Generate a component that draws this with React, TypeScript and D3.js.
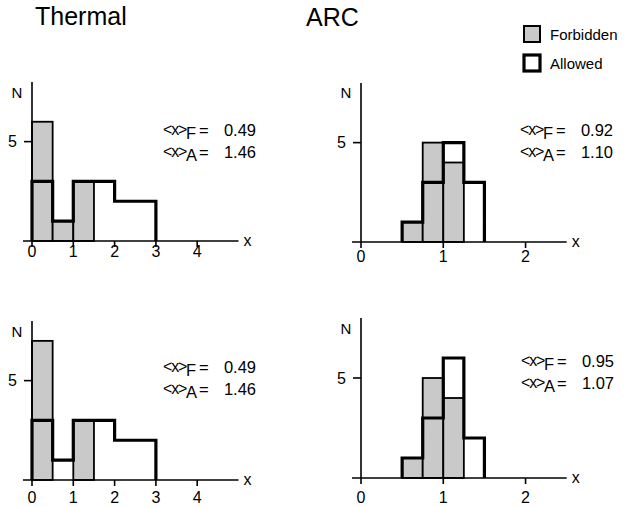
import React, { useRef, useEffect } from "react";
import * as d3 from "d3";

// bin edges
const thermalEdges = [0, 0.5, 1, 1.5, 2, 2.5, 3];
const arcEdges = [0.5, 0.75, 1, 1.25, 1.5];

// counts per bin
const thermalTopForbidden = [6, 1, 3, 0, 0, 0];
const thermalTopAllowed = [3, 1, 3, 3, 2, 2];
const thermalBottomForbidden = [7, 0, 3, 0, 0, 0];
const thermalBottomAllowed = [3, 1, 3, 3, 2, 2];
const arcTopForbidden = [1, 5, 4, 0];
const arcTopAllowed = [1, 3, 5, 3];
const arcBottomForbidden = [1, 5, 4, 0];
const arcBottomAllowed = [1, 3, 6, 2];

const thermalTicks = [0, 1, 2, 3, 4];
const arcTicks = [0, 1, 2];
const yTicks = [5];

const meansF = ["0.49", "0.92", "0.49", "0.95"];
const meansA = ["1.46", "1.10", "1.46", "1.07"];

const FONT = "'Liberation Sans', Arial, Helvetica, sans-serif";
const GRAY = "#c9c9c9";

export default function App() {
  const ref = useRef<SVGSVGElement>(null);

  useEffect(() => {
    const svg = d3.select(ref.current);
    svg.selectAll("*").remove();

    const panels = [
      { edges: thermalEdges, f: thermalTopForbidden, a: thermalTopAllowed, ticks: thermalTicks, xMax: 5,
        x0: 32, x1: 238.5, base: 241, top: 82, tickY: 257, sx: 163, sy: 136, nY: 98, i: 0 },
      { edges: arcEdges, f: arcTopForbidden, a: arcTopAllowed, ticks: arcTicks, xMax: 2.5,
        x0: 361, x1: 566.7, base: 242, top: 83, tickY: 262, sx: 520, sy: 136, nY: 98, i: 1 },
      { edges: thermalEdges, f: thermalBottomForbidden, a: thermalBottomAllowed, ticks: thermalTicks, xMax: 5,
        x0: 32, x1: 238.5, base: 480, top: 321, tickY: 503, sx: 163, sy: 373, nY: 337, i: 2 },
      { edges: arcEdges, f: arcBottomForbidden, a: arcBottomAllowed, ticks: arcTicks, xMax: 2.5,
        x0: 361, x1: 566.7, base: 478, top: 318, tickY: 503, sx: 521, sy: 367, nY: 334, i: 3 },
    ];

    const titles = [
      { t: "Thermal", x: 35, y: 25 },
      { t: "ARC", x: 306, y: 26 },
    ];
    svg.selectAll("text.title")
      .data(titles)
      .join("text")
      .attr("class", "title")
      .attr("x", (d) => d.x)
      .attr("y", (d) => d.y)
      .style("font-family", FONT)
      .style("font-size", "25px")
      .text((d) => d.t);

    panels.forEach((p) => {
      const x = d3.scaleLinear().domain([0, p.xMax]).range([p.x0, p.x1]);
      const y = d3.scaleLinear().domain([0, 8]).range([p.base, p.top]);
      const g = svg.append("g");

      const bins = p.f.map((v, k) => ({ x0: p.edges[k], x1: p.edges[k + 1], f: v, a: p.a[k] }));

      // forbidden bars
      g.selectAll("rect.forb")
        .data(bins.filter((b) => b.f > 0))
        .join("rect")
        .attr("class", "forb")
        .attr("x", (d) => x(d.x0))
        .attr("y", (d) => y(d.f))
        .attr("width", (d) => x(d.x1) - x(d.x0))
        .attr("height", (d) => y(0) - y(d.f))
        .attr("fill", GRAY)
        .attr("stroke", "#000")
        .attr("stroke-width", 1.8);

      // allowed outline (step)
      const pts: [number, number][] = [[bins[0].x0, 0]];
      bins.forEach((b) => {
        pts.push([b.x0, b.a]);
        pts.push([b.x1, b.a]);
      });
      pts.push([bins[bins.length - 1].x1, 0]);
      const line = d3.line<[number, number]>().x((d) => x(d[0])).y((d) => y(d[1]));
      g.append("path")
        .attr("d", line(pts))
        .attr("fill", "none")
        .attr("stroke", "#000")
        .attr("stroke-width", 3.2)
        .attr("stroke-linejoin", "miter");

      // axes
      g.append("line")
        .attr("x1", p.x0 - 9).attr("x2", p.x1)
        .attr("y1", p.base).attr("y2", p.base)
        .attr("stroke", "#000").attr("stroke-width", 1.6);
      g.append("line")
        .attr("x1", p.x0).attr("x2", p.x0)
        .attr("y1", p.top).attr("y2", p.base)
        .attr("stroke", "#000").attr("stroke-width", 1.6);

      g.selectAll("line.xt")
        .data(p.ticks)
        .join("line")
        .attr("class", "xt")
        .attr("x1", (d) => x(d)).attr("x2", (d) => x(d))
        .attr("y1", p.base).attr("y2", p.base + 6)
        .attr("stroke", "#000").attr("stroke-width", 1.6);
      g.selectAll("text.xl")
        .data(p.ticks)
        .join("text")
        .attr("class", "xl")
        .attr("x", (d) => x(d))
        .attr("y", p.tickY)
        .attr("text-anchor", "middle")
        .style("font-family", FONT)
        .style("font-size", "16px")
        .text((d) => d);

      g.selectAll("line.yt")
        .data(yTicks)
        .join("line")
        .attr("class", "yt")
        .attr("x1", p.x0 - 8).attr("x2", p.x0)
        .attr("y1", (d) => y(d)).attr("y2", (d) => y(d))
        .attr("stroke", "#000").attr("stroke-width", 1.6);
      g.selectAll("text.yl")
        .data(yTicks)
        .join("text")
        .attr("class", "yl")
        .attr("x", p.x0 - 15)
        .attr("y", (d) => y(d))
        .attr("dy", "0.36em")
        .attr("text-anchor", "end")
        .style("font-family", FONT)
        .style("font-size", "16px")
        .text((d) => d);

      g.append("text")
        .attr("x", p.x0 - 15)
        .attr("y", p.nY)
        .attr("text-anchor", "middle")
        .style("font-family", FONT)
        .style("font-size", "15px")
        .text("N");
      g.append("text")
        .attr("x", p.x1 + 9)
        .attr("y", p.base + 5)
        .attr("text-anchor", "middle")
        .style("font-family", FONT)
        .style("font-size", "16px")
        .text("x");

      // mean values
      const stats = [
        { sub: "F", v: meansF[p.i], dy: 0 },
        { sub: "A", v: meansA[p.i], dy: 22 },
      ];
      stats.forEach((s) => {
        const ty = p.sy + s.dy;
        const txt = (tx: number, yy: number, str: string, extra?: (t: any) => void) => {
          const t = g.append("text")
            .attr("x", tx)
            .attr("y", yy)
            .style("font-family", FONT)
            .style("font-size", "16.5px")
            .text(str);
          if (extra) extra(t);
        };
        txt(p.sx, ty - 1, "<x>", (t) => t.style("letter-spacing", "-1.2px").style("font-size", "16px"));
        txt(p.sx + 23, ty + 3, s.sub);
        txt(p.sx + 36, ty, "=");
        txt(p.sx + 93, ty, s.v, (t) => t.attr("text-anchor", "end"));
      });
    });

    // legend
    const legend = [
      { label: "Forbidden", fill: GRAY, sw: 2, y: 26 },
      { label: "Allowed", fill: "#fff", sw: 3.2, y: 55 },
    ];
    const lg = svg.append("g");
    lg.selectAll("rect")
      .data(legend)
      .join("rect")
      .attr("x", 524)
      .attr("y", (d) => d.y)
      .attr("width", 16)
      .attr("height", 16)
      .attr("fill", (d) => d.fill)
      .attr("stroke", "#000")
      .attr("stroke-width", (d) => d.sw);
    lg.selectAll("text")
      .data(legend)
      .join("text")
      .attr("x", 550)
      .attr("y", (d) => d.y + 14)
      .style("font-family", FONT)
      .style("font-size", "15px")
      .text((d) => d.label);
  }, []);

  return (
    <svg
      ref={ref}
      width={630}
      height={507}
      style={{ position: "absolute", left: 0, top: 0, background: "#fff" }}
    />
  );
}
